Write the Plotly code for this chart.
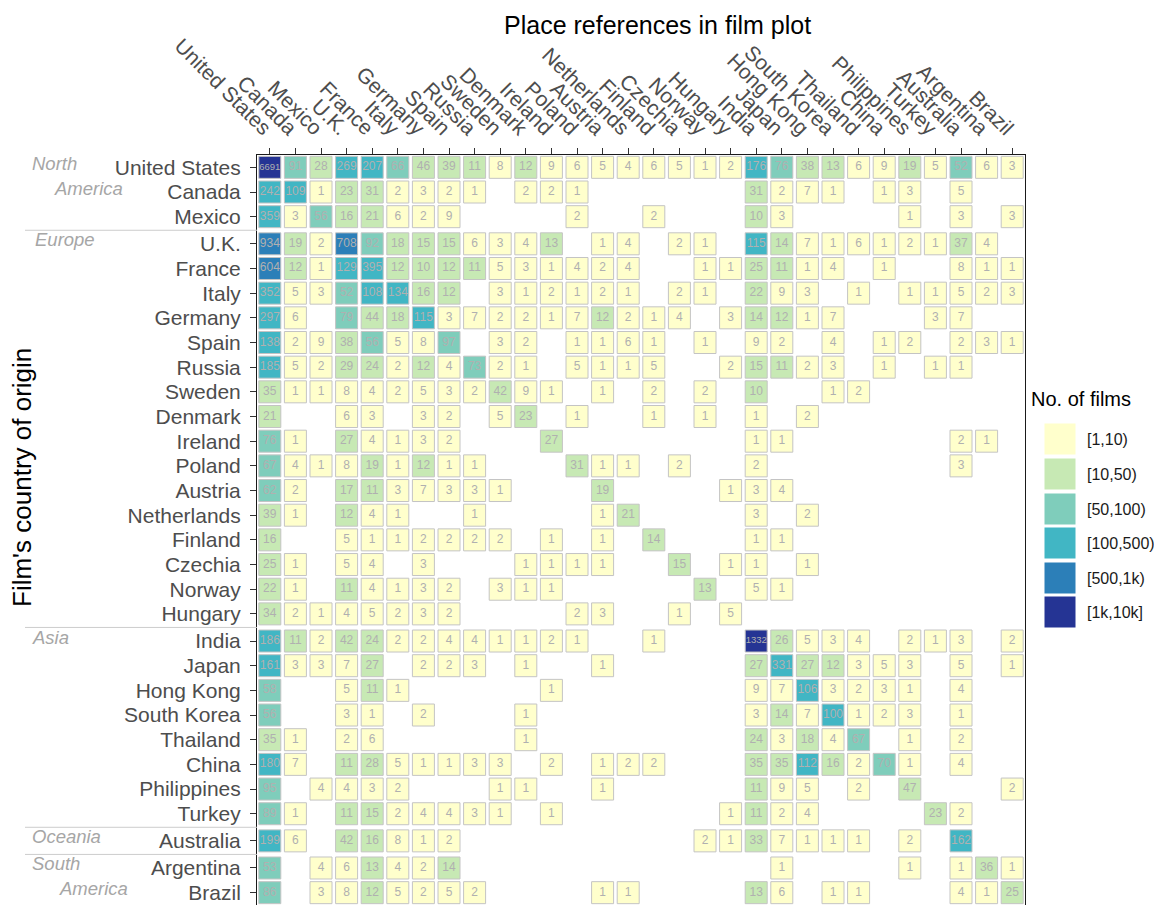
import plotly.graph_objects as go

# ---------------- data ----------------
places = ["United States", "Canada", "Mexico", "U.K.", "France", "Italy", "Germany",
          "Spain", "Russia", "Sweden", "Denmark", "Ireland", "Poland", "Austria",
          "Netherlands", "Finland", "Czechia", "Norway", "Hungary", "India", "Japan",
          "Hong Kong", "South Korea", "Thailand", "China", "Philippines", "Turkey",
          "Australia", "Argentina", "Brazil"]
origins = list(places)

region_names = ["North America", "Europe", "Asia", "Oceania", "South America"]
region_sizes = [3, 16, 8, 1, 2]

# rows: film's country of origin; columns: place referenced (0 = none)
counts = [
    [6691, 91, 28, 269, 207, 66, 46, 39, 11, 8, 12, 9, 6, 5, 4, 6, 5, 1, 2, 176, 76, 38, 13, 6, 9, 19, 5, 52, 6, 3],
    [242, 109, 1, 23, 31, 2, 3, 2, 1, 0, 2, 2, 1, 0, 0, 0, 0, 0, 0, 31, 2, 7, 1, 0, 1, 3, 0, 5, 0, 0],
    [359, 3, 56, 16, 21, 6, 2, 9, 0, 0, 0, 0, 2, 0, 0, 2, 0, 0, 0, 10, 3, 0, 0, 0, 0, 1, 0, 3, 0, 3],
    [934, 19, 2, 708, 92, 18, 15, 15, 6, 3, 4, 13, 0, 1, 4, 0, 2, 1, 0, 115, 14, 7, 1, 6, 1, 2, 1, 37, 4, 0],
    [604, 12, 1, 129, 395, 12, 10, 12, 11, 5, 3, 1, 4, 2, 4, 0, 0, 1, 1, 25, 11, 1, 4, 0, 1, 0, 0, 8, 1, 1],
    [352, 5, 3, 52, 108, 134, 16, 12, 0, 3, 1, 2, 1, 2, 1, 0, 2, 1, 0, 22, 9, 3, 0, 1, 0, 1, 1, 5, 2, 3],
    [297, 6, 0, 79, 44, 18, 115, 3, 7, 2, 2, 1, 7, 12, 2, 1, 4, 0, 3, 14, 12, 1, 7, 0, 0, 0, 3, 7, 0, 0],
    [138, 2, 9, 38, 56, 5, 8, 97, 0, 3, 2, 0, 1, 1, 6, 1, 0, 1, 0, 9, 2, 0, 4, 0, 1, 2, 0, 2, 3, 1],
    [185, 5, 2, 29, 24, 2, 12, 4, 73, 2, 1, 0, 5, 1, 1, 5, 0, 0, 2, 15, 11, 2, 3, 0, 1, 0, 1, 1, 0, 0],
    [35, 1, 1, 8, 4, 2, 5, 3, 2, 42, 9, 1, 0, 1, 0, 2, 0, 2, 0, 10, 0, 0, 1, 2, 0, 0, 0, 0, 0, 0],
    [21, 0, 0, 6, 3, 0, 3, 2, 0, 5, 23, 0, 1, 0, 0, 1, 0, 1, 0, 1, 0, 2, 0, 0, 0, 0, 0, 0, 0, 0],
    [76, 1, 0, 27, 4, 1, 3, 2, 0, 0, 0, 27, 0, 0, 0, 0, 0, 0, 0, 1, 1, 0, 0, 0, 0, 0, 0, 2, 1, 0],
    [67, 4, 1, 8, 19, 1, 12, 1, 1, 0, 0, 0, 31, 1, 1, 0, 2, 0, 0, 2, 0, 0, 0, 0, 0, 0, 0, 3, 0, 0],
    [62, 2, 0, 17, 11, 3, 7, 3, 3, 1, 0, 0, 0, 19, 0, 0, 0, 0, 1, 3, 4, 0, 0, 0, 0, 0, 0, 0, 0, 0],
    [39, 1, 0, 12, 4, 1, 0, 0, 1, 0, 0, 0, 0, 1, 21, 0, 0, 0, 0, 3, 0, 2, 0, 0, 0, 0, 0, 0, 0, 0],
    [16, 0, 0, 5, 1, 1, 2, 2, 2, 2, 0, 1, 0, 1, 0, 14, 0, 0, 0, 1, 1, 0, 0, 0, 0, 0, 0, 0, 0, 0],
    [25, 1, 0, 5, 4, 0, 3, 0, 0, 0, 1, 1, 1, 1, 0, 0, 15, 0, 1, 1, 0, 1, 0, 0, 0, 0, 0, 0, 0, 0],
    [22, 1, 0, 11, 4, 1, 3, 2, 0, 3, 1, 1, 0, 0, 0, 0, 0, 13, 0, 5, 1, 0, 0, 0, 0, 0, 0, 0, 0, 0],
    [34, 2, 1, 4, 5, 2, 3, 2, 0, 0, 0, 0, 2, 3, 0, 0, 1, 0, 5, 0, 0, 0, 0, 0, 0, 0, 0, 0, 0, 0],
    [186, 11, 2, 42, 24, 2, 2, 4, 4, 1, 1, 2, 1, 0, 0, 1, 0, 0, 0, 1332, 26, 5, 3, 4, 0, 2, 1, 3, 0, 2],
    [161, 3, 3, 7, 27, 0, 2, 2, 3, 0, 1, 0, 0, 1, 0, 0, 0, 0, 0, 27, 331, 27, 12, 3, 5, 3, 0, 5, 0, 1],
    [58, 0, 0, 5, 11, 1, 0, 0, 0, 0, 0, 1, 0, 0, 0, 0, 0, 0, 0, 9, 7, 106, 3, 2, 3, 1, 0, 4, 0, 0],
    [56, 0, 0, 3, 1, 0, 2, 0, 0, 0, 1, 0, 0, 0, 0, 0, 0, 0, 0, 3, 14, 7, 100, 1, 2, 3, 0, 1, 0, 0],
    [35, 1, 0, 2, 6, 0, 0, 0, 0, 0, 1, 0, 0, 0, 0, 0, 0, 0, 0, 24, 3, 18, 4, 67, 0, 1, 0, 2, 0, 0],
    [180, 7, 0, 11, 28, 5, 1, 1, 3, 3, 0, 2, 0, 1, 2, 2, 0, 0, 0, 35, 35, 112, 16, 2, 70, 1, 0, 4, 0, 0],
    [95, 0, 4, 4, 3, 2, 0, 0, 0, 1, 1, 0, 0, 1, 0, 0, 0, 0, 0, 11, 9, 5, 0, 2, 0, 47, 0, 0, 0, 2],
    [89, 1, 0, 11, 15, 2, 4, 4, 3, 1, 0, 1, 0, 0, 0, 0, 0, 0, 1, 11, 2, 4, 0, 0, 0, 0, 23, 2, 0, 0],
    [199, 6, 0, 42, 16, 8, 1, 2, 0, 0, 0, 0, 0, 0, 0, 0, 0, 2, 1, 33, 7, 1, 1, 1, 0, 2, 0, 162, 0, 0],
    [53, 0, 4, 6, 13, 4, 2, 14, 0, 0, 0, 0, 0, 0, 0, 0, 0, 0, 0, 0, 1, 0, 0, 0, 0, 1, 0, 1, 36, 1],
    [86, 0, 3, 8, 12, 5, 2, 5, 2, 0, 0, 0, 0, 1, 1, 0, 0, 0, 0, 13, 6, 0, 1, 1, 0, 0, 0, 4, 1, 25],
]

bin_edges = [1, 10, 50, 100, 500, 1000, 10001]
bin_labels = ["[1,10)", "[10,50)", "[50,100)", "[100,500)", "[500,1k)", "[1k,10k]"]
bin_colors = ["#ffffcc", "#c7e9b4", "#7fcdbb", "#41b6c4", "#2c7fb8", "#253494"]

# ---------------- layout helpers ----------------
FONT = "Liberation Sans, Arial, Helvetica, sans-serif"
GAP = 0.1
row_pos = []
row_region = []
i = 0
for g, n in enumerate(region_sizes):
    for _ in range(n):
        row_pos.append(i + GAP * g)
        row_region.append(g)
        i += 1

# page has an 8px body margin: figure is placed at (8, 8)
OFF = 8
W, H = 1162 - OFF, 905 - OFF
PANEL_L, PANEL_R, PANEL_T, PANEL_B = 257, 1025, 155, 905   # page pixels
ML, MT = PANEL_L - OFF, PANEL_T - OFF
MR, MB = W - (PANEL_R - OFF), H - (PANEL_B - OFF)
PW, PH = PANEL_R - PANEL_L, PANEL_B - PANEL_T


def px(x):
    return (x - PANEL_L) / PW


def py(y):
    return (PANEL_B - y) / PH


fig = go.Figure()

for b in range(len(bin_labels)):
    xs, ys, ts, sizes = [], [], [], []
    for r, row in enumerate(counts):
        for c, v in enumerate(row):
            if v and bin_edges[b] <= v < bin_edges[b + 1]:
                xs.append(c)
                ys.append(row_pos[r])
                ts.append(str(v))
                sizes.append(9.5 if len(str(v)) >= 4 else 12)
    fig.add_trace(go.Scatter(
        x=xs, y=ys, mode="markers+text", text=ts,
        textposition="middle center",
        textfont=dict(family=FONT, size=sizes, color="#b0b0b0"),
        marker=dict(symbol="square", size=22, color=bin_colors[b],
                    line=dict(color="#c4c4c4", width=1)),
        name=bin_labels[b], showlegend=False, hoverinfo="skip",
        cliponaxis=False,
    ))

fig.update_layout(
    width=W, height=H,
    margin=dict(l=ML, r=MR, t=MT, b=MB, autoexpand=False),
    paper_bgcolor="white", plot_bgcolor="white",
    font=dict(family=FONT, color="#1a1a1a"),
    showlegend=False,
    xaxis=dict(
        range=[-0.5, len(places) - 0.5], side="top",
        tickmode="array", tickvals=list(range(len(places))), ticktext=places,
        tickangle=45, tickfont=dict(size=21, color="#4d4d4d", family=FONT),
        ticks="outside", ticklen=6, tickcolor="#333333",
        showline=True, linecolor="#1a1a1a", linewidth=1, mirror=True,
        showgrid=False, zeroline=False, fixedrange=True, automargin=False,
    ),
    yaxis=dict(
        range=[row_pos[-1] + 0.5, -0.5],
        tickmode="array", tickvals=row_pos, ticktext=origins,
        tickfont=dict(size=21, color="#4d4d4d", family=FONT),
        ticks="outside", ticklen=6, tickcolor="#333333", ticklabelstandoff=5,
        showline=True, linecolor="#1a1a1a", linewidth=1, mirror=True,
        showgrid=False, zeroline=False, fixedrange=True, automargin=False,
    ),
)

ann = []
# main title
ann.append(dict(text="Place references in film plot", x=px(657), y=py(25),
                xref="paper", yref="paper", xanchor="center", yanchor="middle",
                showarrow=False, font=dict(size=25, color="#000000", family=FONT)))
# y title
ann.append(dict(text="Film's country of origin", x=px(22), y=py(478),
                xref="paper", yref="paper", xanchor="center", yanchor="middle",
                textangle=-90, showarrow=False,
                font=dict(size=26, color="#000000", family=FONT)))

# region labels
gray_it = dict(size=18.5, color="#a6a6a6", family=FONT)
region_lines = {
    0: [("North", 30, 0), ("America", 52, 1)],
    1: [("Europe", 33, 0)],
    2: [("Asia", 30, 0)],
    3: [("Oceania", 30, 0)],
    4: [("South", 30, 0), ("America", 57, 1)],
}
first_row = [row_region.index(g) for g in range(len(region_names))]
for g, lines in region_lines.items():
    for txt, xpix, k in lines:
        ann.append(dict(text="<i>%s</i>" % txt, x=px(xpix), y=row_pos[first_row[g] + k],
                        xref="paper", yref="y", xanchor="left", yanchor="middle",
                        yshift=4, showarrow=False, font=gray_it))

# separator lines between regions
shapes = []
for g in range(1, len(region_names)):
    r = first_row[g]
    yb = (row_pos[r - 1] + row_pos[r]) / 2
    shapes.append(dict(type="line", xref="paper", yref="y", x0=px(25), x1=0,
                       y0=yb, y1=yb, line=dict(color="#cccccc", width=1)))

# manual legend
ann.append(dict(text="No. of films", x=px(1029), y=py(399), xref="paper", yref="paper",
                xanchor="left", yanchor="middle", showarrow=False,
                font=dict(size=20, color="#000000", family=FONT)))
leg_y = [439, 474, 509, 543, 578, 612]
for b, lab in enumerate(bin_labels):
    ann.append(dict(text=" ", x=px(1060), y=py(leg_y[b]), xref="paper", yref="paper",
                    xanchor="center", yanchor="middle", showarrow=False,
                    width=30, height=30, bgcolor=bin_colors[b], borderpad=0,
                    font=dict(size=10)))
    ann.append(dict(text=lab, x=px(1085), y=py(leg_y[b]), xref="paper", yref="paper",
                    xanchor="left", yanchor="middle", showarrow=False,
                    font=dict(size=16, color="#1a1a1a", family=FONT)))

fig.update_layout(annotations=ann, shapes=shapes)
fig.write_html("out.html")
